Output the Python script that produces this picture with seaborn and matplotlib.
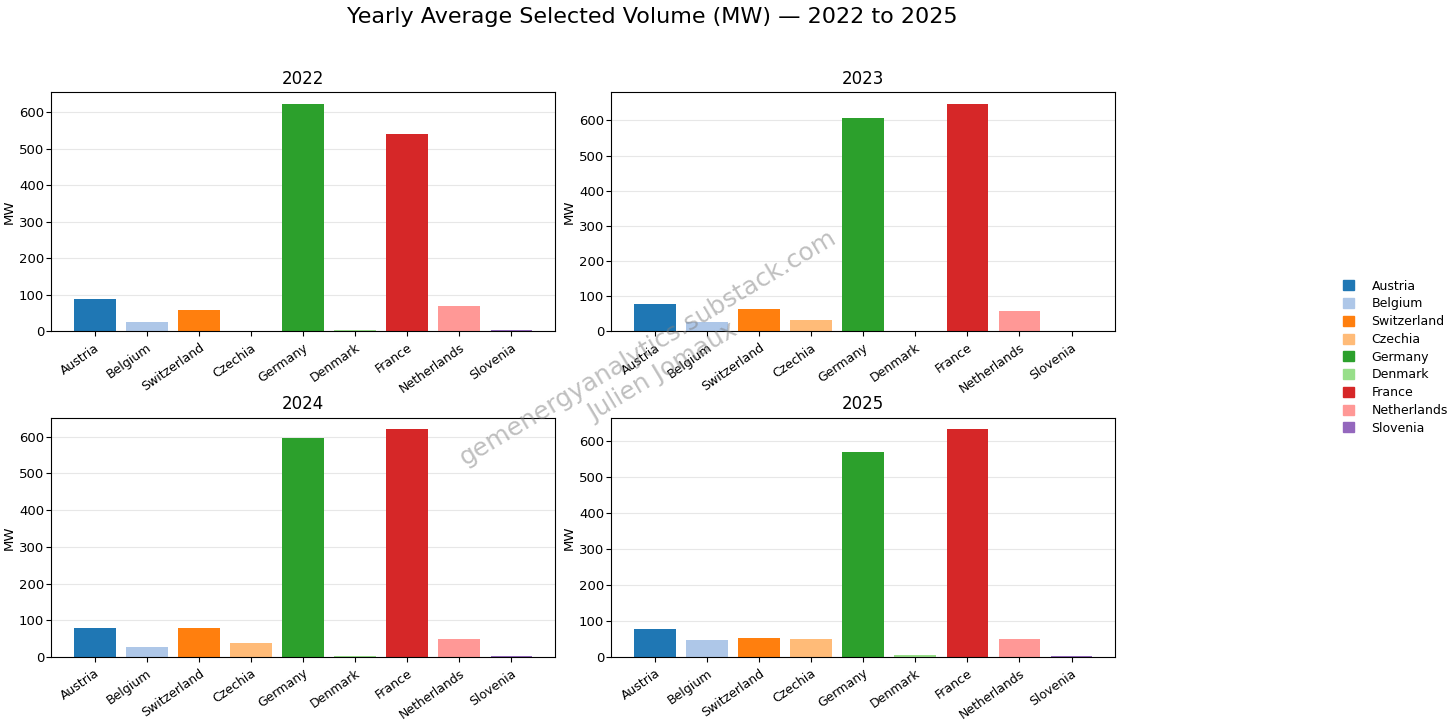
import matplotlib
matplotlib.use("Agg")
import matplotlib.pyplot as plt
import matplotlib.patches as mpatches
import seaborn as sns
import pandas as pd

countries = ['Austria', 'Belgium', 'Switzerland', 'Czechia', 'Germany',
             'Denmark', 'France', 'Netherlands', 'Slovenia']
years = [2022, 2023, 2024, 2025]

# yearly average selected volume (MW)
vol_2022 = [88, 27, 60, 0, 623, 4, 540, 69, 3]
vol_2023 = [77, 28, 63, 34, 606, 1, 648, 57, 2]
vol_2024 = [80, 28, 80, 39, 598, 2, 621, 50, 3]
vol_2025 = [78, 47, 53, 51, 570, 5, 634, 49, 2]
volumes = [vol_2022, vol_2023, vol_2024, vol_2025]

colors = sns.color_palette("tab20", len(countries))
palette = dict(zip(countries, colors))

fig, axes = plt.subplots(2, 2, figsize=(14.56, 7.2), dpi=100)
fig.subplots_adjust(left=0.035, right=0.766, top=0.872, bottom=0.0875,
                    wspace=0.111, hspace=0.36)

for ax, year, vals in zip(axes.flat, years, volumes):
    df = pd.DataFrame({'country': countries, 'MW': vals})
    sns.barplot(data=df, x='country', y='MW', hue='country', palette=palette,
                saturation=1, width=0.8, linewidth=0, legend=False, ax=ax)
    ax.set_xlim(-0.84, len(countries) - 0.16)
    ax.set_title(str(year), fontsize=12)
    ax.set_xlabel('')
    ax.set_ylabel('MW', fontsize=9.5, labelpad=2)
    ax.grid(axis='y', alpha=0.3)
    ax.set_axisbelow(True)
    ax.tick_params(axis='y', labelsize=9.5, pad=1.5)
    ax.tick_params(axis='x', labelsize=9)
    plt.setp(ax.get_xticklabels(), rotation=35, ha='right', rotation_mode='anchor')

handles = [mpatches.Patch(color=palette[c], label=c) for c in countries]
fig.legend(handles=handles, loc='center left', bbox_to_anchor=(0.915, 0.504),
           frameon=False, fontsize=9, handlelength=0.85, handleheight=0.85,
           handletextpad=1.4, labelspacing=0.38)

fig.suptitle('Yearly Average Selected Volume (MW) \u2014 2022 to 2025',
             fontsize=16, x=0.448, y=0.99)

# watermark
fig.text(0.45, 0.5, 'gemenergyanalytics.substack.com\nJulien Jomaux', fontsize=18,
         color='grey', alpha=0.5, rotation=31, ha='center', va='center',
         multialignment='center')

fig.savefig('out.png', dpi=100)
